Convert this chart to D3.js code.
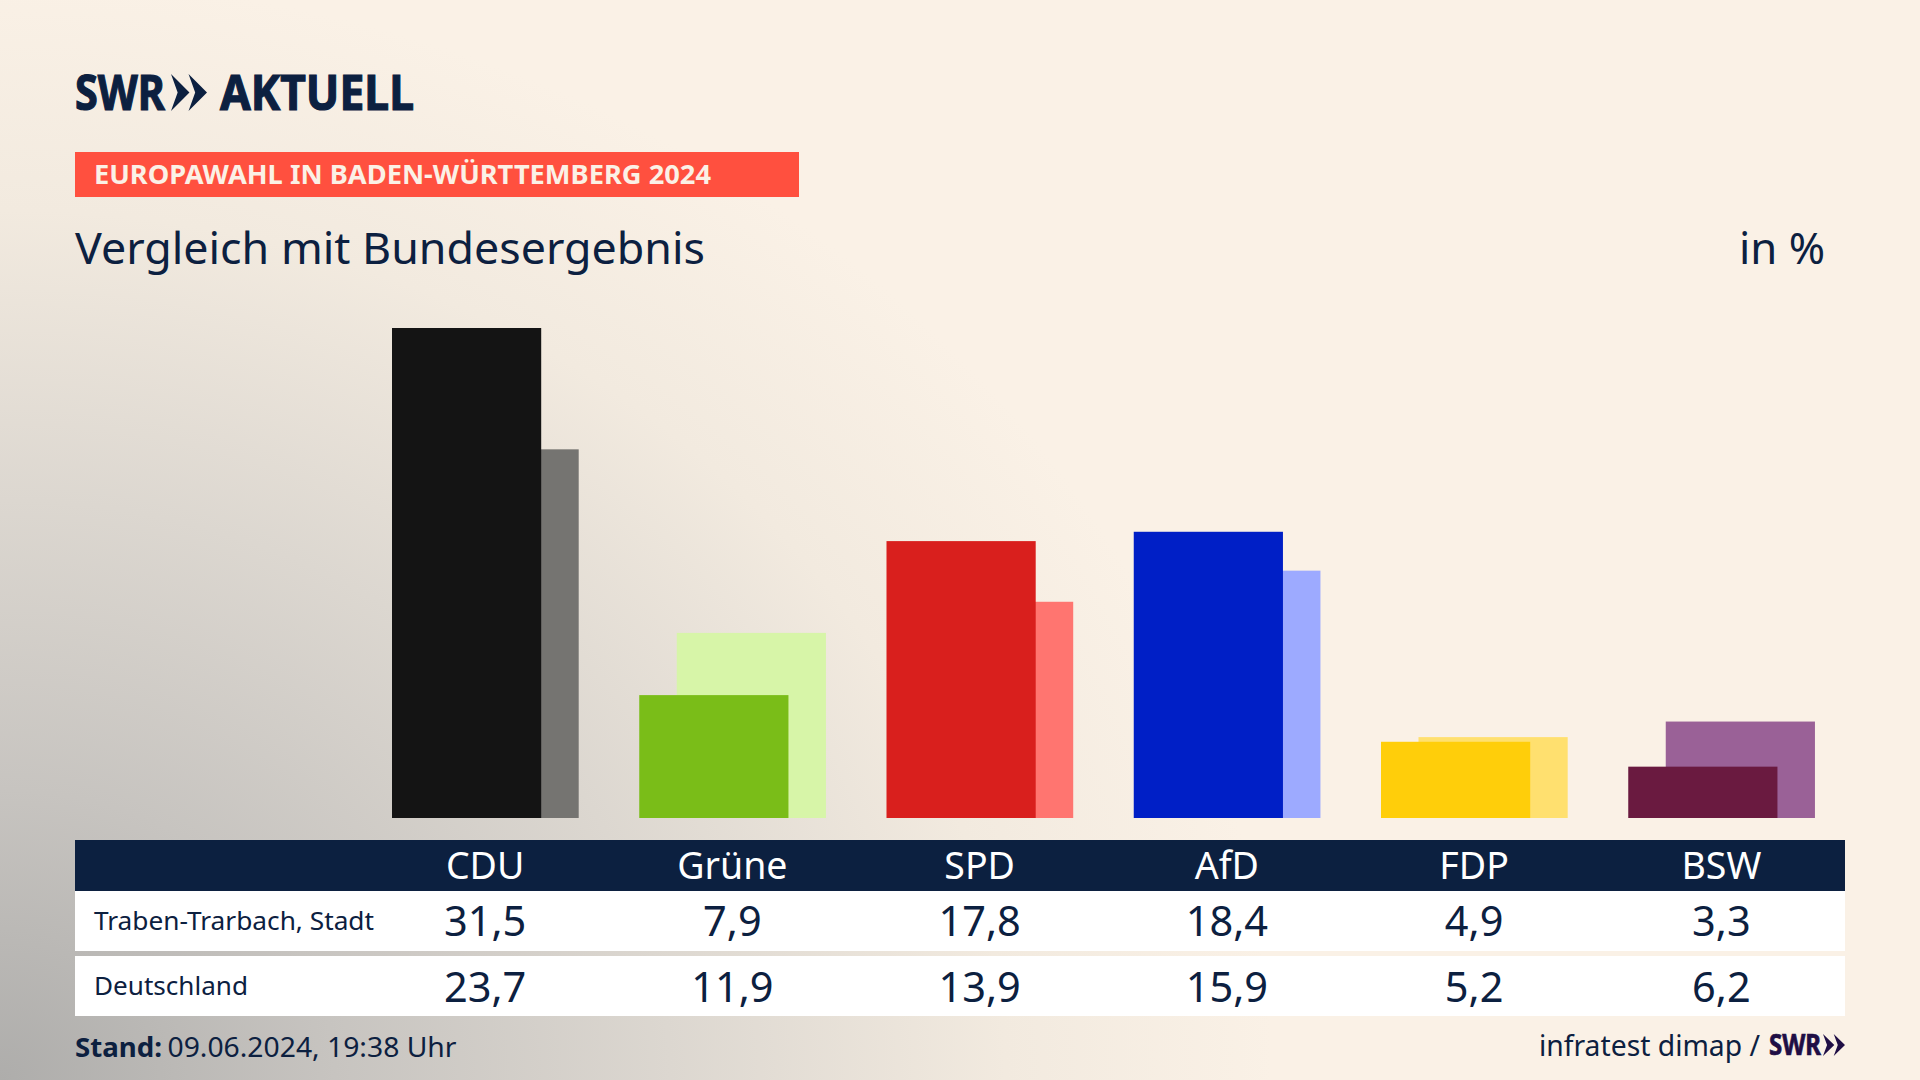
<!DOCTYPE html>
<html lang="de"><head><meta charset="utf-8">
<script src="https://cdn.jsdelivr.net/npm/d3@7"></script>
<style>html,body{margin:0;padding:0;background:#faf1e6;overflow:hidden}svg{display:block}text{font-family:"Noto Sans",sans-serif}</style>
</head><body><svg id="c" width="1920" height="1080"></svg>
<script>
const parties = ["CDU","Grüne","SPD","AfD","FDP","BSW"];
const localValues = [31.5,7.9,17.8,18.4,4.9,3.3];
const nationalValues = [23.7,11.9,13.9,15.9,5.2,6.2];
const rowLabels = ["Traben-Trarbach, Stadt","Deutschland"];
const strongColors = ["#141414","#7abd18","#d91f1d","#001fc6","#ffce0a","#6a1a40"];
const paleColors = ["#757471","#d7f5a8","#ff7570","#9daaff","#ffe06f","#9a6197"];

const navy = "#0c2040";
const svg = d3.select("#c");
const defs = svg.append("defs");
const g1 = defs.append("radialGradient").attr("id","bg").attr("gradientUnits","userSpaceOnUse")
  .attr("cx",0).attr("cy",0).attr("r",1)
  .attr("gradientTransform","translate(0,1080) scale(1340,1160)");
[[0,"#aeadab"],[0.25,"#c7c4c0"],[0.5,"#dcd7d0"],[0.75,"#f2eadf"],[0.95,"#faf1e6"]].forEach(([o,c])=>g1.append("stop").attr("offset",o).attr("stop-color",c));
svg.append("rect").attr("width",1920).attr("height",1080).attr("fill","url(#bg)");

function label(x,y,s,size,opt={}){
  const t = svg.append("text").attr("x",x).attr("y",y).text(s).attr("font-size",size)
    .attr("fill",opt.fill||navy).attr("font-weight",opt.weight||400).attr("text-anchor",opt.anchor||"start");
  if(opt.len) t.attr("textLength",opt.len).attr("lengthAdjust","spacingAndGlyphs");
  if(opt.stroke) t.attr("stroke",opt.fill||navy).attr("stroke-width",opt.stroke);
  return t;
}
function chevrons(x,y,w,h,fill){
  const u=w/1.95;
  [0,1].forEach(i=>{
    const x0=x+i*u*0.95;
    svg.append("path").attr("fill",fill)
      .attr("d",`M${x0},${y}L${x0+u},${y+h/2}L${x0},${y+h}L${x0+u*0.36},${y+h/2}Z`);
  });
}

// header
label(75,110,"SWR",49,{weight:700,len:90,stroke:1.2});
chevrons(171,74,36,37,navy);
label(220,110,"AKTUELL",49,{weight:700,len:194,stroke:1.2});
svg.append("rect").attr("x",75).attr("y",152).attr("width",724).attr("height",45).attr("fill","#ff503f");
label(94,184,"EUROPAWAHL IN BADEN-WÜRTTEMBERG 2024",26,{weight:700,fill:"#fbf1e6",len:617});
label(75,264,"Vergleich mit Bundesergebnis",44.5,{len:630});
label(1825,264,"in %",44.5,{anchor:"end",len:86});

// scales
const x = d3.scaleBand().domain(parties).range([362,1845.5]);
const y = d3.scaleLinear().domain([0,31.5]).range([818,328]);
const barW = 149.2, backOffset = 37.5, leftPad = 30;

parties.forEach((p,i)=>{
  const bx = x(p)+leftPad;
  svg.append("rect").attr("x",bx+backOffset).attr("y",y(nationalValues[i])).attr("width",barW)
    .attr("height",y(0)-y(nationalValues[i])).attr("fill",paleColors[i]);
  svg.append("rect").attr("x",bx).attr("y",y(localValues[i])).attr("width",barW)
    .attr("height",y(0)-y(localValues[i])).attr("fill",strongColors[i]);
});

// table
svg.append("rect").attr("x",75).attr("y",840).attr("width",1770).attr("height",51).attr("fill",navy);
svg.append("rect").attr("x",75).attr("y",891).attr("width",1770).attr("height",60).attr("fill","#fff");
svg.append("rect").attr("x",75).attr("y",956).attr("width",1770).attr("height",60).attr("fill","#fff");
const fmt = v=>v.toFixed(1).replace(".",",");
parties.forEach((p,i)=>{
  const cx = x(p)+x.bandwidth()/2 - 0.5;
  label(cx,879,p,37.5,{anchor:"middle",fill:"#fff"});
  label(cx,936,fmt(localValues[i]),41.5,{anchor:"middle"});
  label(cx,1002,fmt(nationalValues[i]),41.5,{anchor:"middle"});
});
label(94,930,rowLabels[0],25.5,{len:280});
label(94,995,rowLabels[1],25.5,{len:154});

// footer
label(75,1057,"Stand:",27.5,{weight:700,len:87});
label(167.5,1057,"09.06.2024, 19:38 Uhr",27.5,{len:289});
label(1539,1056,"infratest dimap /",28.5,{len:221});
label(1769,1055,"SWR",28,{weight:700,fill:"#1f0e45",len:52,stroke:0.7});
chevrons(1823,1034,22,22,"#1f0e45");
</script></body></html>
